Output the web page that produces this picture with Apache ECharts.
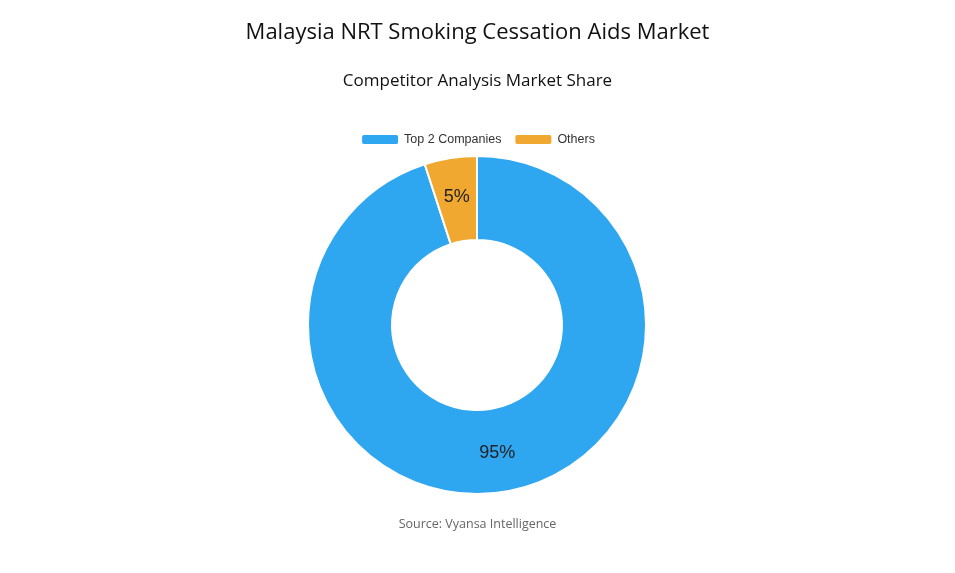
<!DOCTYPE html>
<html><head><meta charset="utf-8">
<script src="https://cdn.jsdelivr.net/npm/echarts@6/dist/echarts.min.js"></script>
<style>html,body{margin:0;padding:0;background:#fff}#c{width:955px;height:573px}</style>
</head><body><div id="c"></div>
<script>
const categories = ["Top 2 Companies", "Others"];
const values = [95, 5];
const colors = ["#2ea6f0", "#f0a830"];
const chart = echarts.init(document.getElementById('c'));
chart.setOption({
  animation: false,
  title: [
    {text: "Malaysia NRT Smoking Cessation Aids Market", left: 'center', top: 17,
     textStyle: {fontFamily: 'Open Sans', fontSize: 22, fontWeight: 500, color: '#111'}},
    {text: "Competitor Analysis Market Share", left: 'center', top: 68,
     textStyle: {fontFamily: 'Open Sans', fontSize: 17, fontWeight: 500, color: '#111'}},
    {text: "Source: Vyansa Intelligence", left: 'center', top: 513,
     textStyle: {fontFamily: 'Open Sans', fontSize: 12.5, fontWeight: 'normal', color: '#666'}}
  ],
  legend: {top: 128, left: 'center', itemWidth: 38, itemHeight: 11, itemGap: 12,
    textStyle: {fontFamily: 'Liberation Sans', fontSize: 12.5, color: '#333'}, data: categories},
  series: [{
    type: 'pie', center: [477, 325], radius: [85, 169], startAngle: 90, clockwise: true,
    itemStyle: {borderColor: '#fff', borderWidth: 2},
    label: {position: 'inner', formatter: '{c}%', fontFamily: 'Liberation Sans', fontSize: 18, color: '#222'},
    labelLine: {show: false},
    data: categories.map((n, i) => ({name: n, value: values[i], itemStyle: {color: colors[i]}}))
  }]
});
</script></body></html>
